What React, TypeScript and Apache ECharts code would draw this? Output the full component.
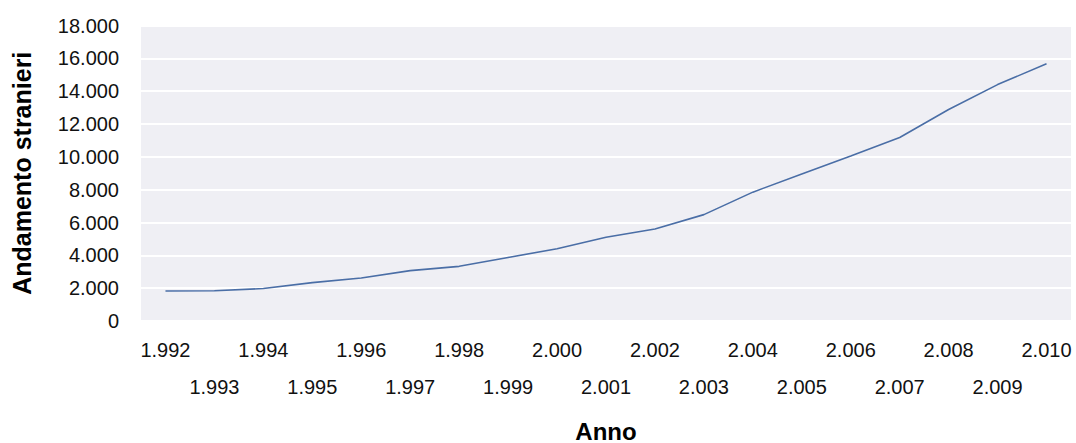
import React, { useEffect, useRef } from "react";
import * as echarts from "echarts";

const years = [1992, 1993, 1994, 1995, 1996, 1997, 1998, 1999, 2000, 2001, 2002, 2003, 2004, 2005, 2006, 2007, 2008, 2009, 2010];
const stranieri = [1830, 1840, 1980, 2340, 2620, 3070, 3330, 3870, 4400, 5100, 5600, 6480, 7850, 8950, 10050, 11180, 12880, 14400, 15670];
const yMin = 0;
const yMax = 18000;
const yStep = 2000;
const xTitle = "Anno";
const yTitle = "Andamento stranieri";

const fmtThousands = (v: number | string) => {
  const n = Number(v);
  if (n < 1000) return String(n);
  const s = String(Math.round(n));
  return s.slice(0, s.length - 3) + "." + s.slice(s.length - 3);
};

const FONT = 'Arial, "Liberation Sans", sans-serif';

export default function App() {
  const ref = useRef<HTMLDivElement>(null);
  useEffect(() => {
    document.body.style.margin = "0";
    if (!ref.current) return;
    const chart = echarts.init(ref.current, null, { renderer: "svg" });
    const cats = years.map(String);
    const labelBase = {
      fontSize: 20,
      color: "#111",
      fontFamily: FONT,
      formatter: (v: string) => fmtThousands(v),
    };
    chart.setOption({
      animation: false,
      backgroundColor: "#ffffff",
      grid: {
        left: 141,
        right: 5,
        top: 25.5,
        bottom: 122,
        show: true,
        backgroundColor: "#efeff4",
        borderWidth: 0,
        containLabel: false,
        outerBoundsMode: "none",
      },
      xAxis: [
        {
          type: "category",
          data: cats,
          position: "bottom",
          boundaryGap: true,
          axisLine: { show: false },
          axisTick: { show: false },
          splitLine: { show: false },
          axisLabel: { ...labelBase, margin: 19, interval: (i: number) => i % 2 === 0 },
          name: xTitle,
          nameLocation: "middle",
          nameGap: 98,
          nameTextStyle: { fontSize: 24, fontWeight: "bold", color: "#000", fontFamily: FONT, verticalAlign: "top" },
        },
        {
          type: "category",
          data: cats,
          position: "bottom",
          boundaryGap: true,
          axisLine: { show: false },
          axisTick: { show: false },
          splitLine: { show: false },
          axisLabel: { ...labelBase, margin: 56, interval: (i: number) => i % 2 === 1 },
        },
      ],
      yAxis: {
        type: "value",
        min: yMin,
        max: yMax,
        interval: yStep,
        axisLine: { show: false },
        axisTick: { show: false },
        splitLine: { show: true, lineStyle: { color: "#ffffff", width: 2 } },
        axisLabel: { ...labelBase, margin: 22, formatter: (v: number) => fmtThousands(v) },
        name: yTitle,
        nameLocation: "middle",
        nameGap: 107,
        nameTextStyle: { fontSize: 25, fontWeight: "bold", color: "#000", fontFamily: FONT },
      },
      series: [
        {
          type: "line",
          data: stranieri,
          xAxisIndex: 0,
          symbol: "none",
          smooth: false,
          lineStyle: { color: "#4a6ea6", width: 1.6 },
          itemStyle: { color: "#4a6ea6" },
        },
      ],
    });
    return () => chart.dispose();
  }, []);
  return <div ref={ref} style={{ width: 1076, height: 443 }} />;
}
